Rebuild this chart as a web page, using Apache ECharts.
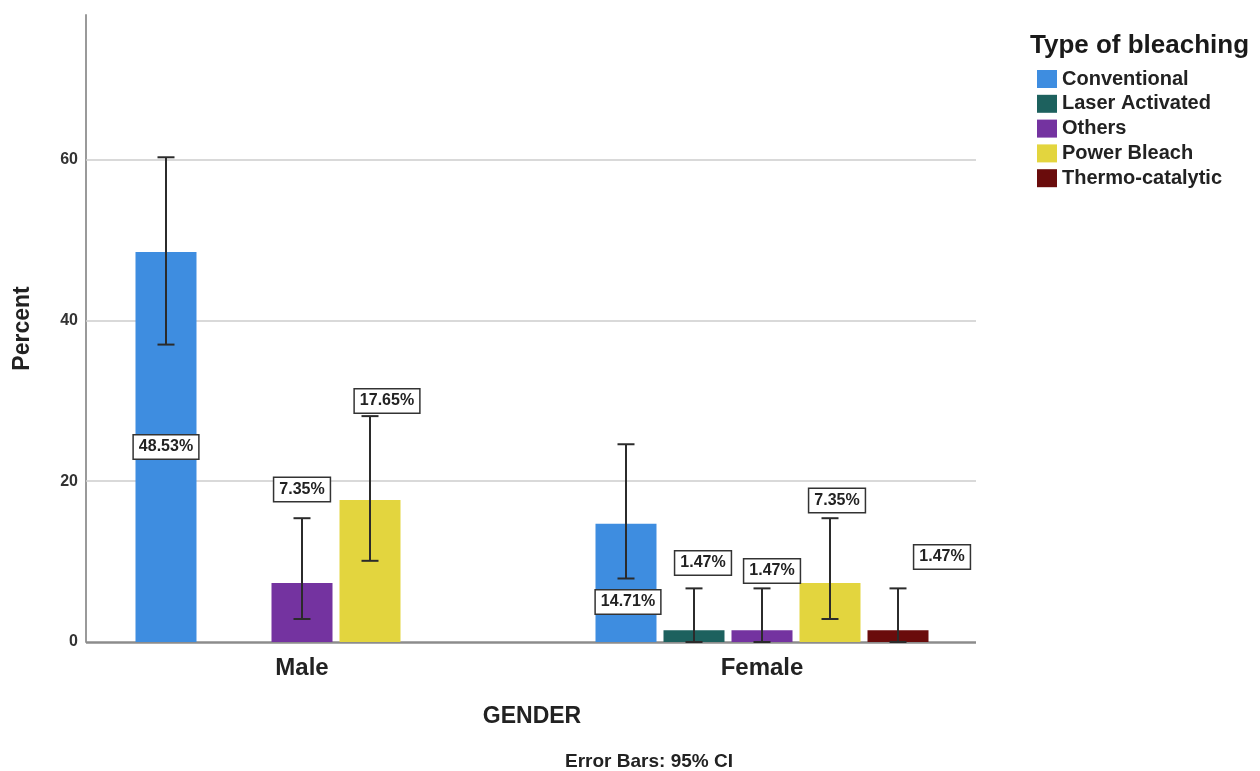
<!DOCTYPE html>
<html>
<head>
<meta charset="utf-8">
<script src="https://cdn.jsdelivr.net/npm/echarts@6/dist/echarts.min.js"></script>
<style>
  html, body { margin: 0; padding: 0; background: #fff; }
  #chart { width: 1260px; height: 771px; }
</style>
</head>
<body>
<div id="chart"></div>
<script>
// Gender groups on the x axis
const genders = ['Male', 'Female'];

// Bleaching types (legend order)
const bleachTypes = ['Conventional', 'Laser Activated', 'Others', 'Power Bleach', 'Thermo-catalytic'];

// Percent of cases per bleaching type, [Male, Female]
const conventional = [48.53, 14.71];
const laserActivated = [0, 1.47];
const others = [7.35, 1.47];
const powerBleach = [17.65, 7.35];
const thermoCatalytic = [0, 1.47];

// 95% confidence interval bounds, [Male, Female]
const conventionalCI = [[37.0, 60.3], [7.9, 24.6]];
const laserActivatedCI = [null, [0, 6.67]];
const othersCI = [[2.86, 15.4], [0, 6.67]];
const powerBleachCI = [[10.1, 28.1], [2.86, 15.4]];
const thermoCatalyticCI = [null, [0, 6.67]];

// Y axis gridline values
const yGridValues = [20, 40, 60];

const seriesValues = [conventional, laserActivated, others, powerBleach, thermoCatalytic];
const seriesCI = [conventionalCI, laserActivatedCI, othersCI, powerBleachCI, thermoCatalyticCI];
const colors = ['#3e8de0', '#1d615e', '#7433a0', '#e3d53e', '#6a0c0c'];

// Data label offsets from the bar centre (px), [type][gender]
const labelOffsets = [
  [[0, 0], [2, 19]],
  [[0, 0], [9, -73]],
  [[0, -123], [10, -65]],
  [[17, -170], [7, -112]],
  [[0, 0], [44, -79]]
];

const FONT = '"Liberation Sans", Arial, sans-serif';
const BAR_WIDTH = 61;
const BAR_STEP = 68;
const AXIS_X0 = 86, AXIS_X1 = 976;

const labelStyle = {
  show: true,
  position: 'inside',
  fontFamily: FONT,
  fontWeight: 'bold',
  fontSize: 16,
  color: '#222',
  backgroundColor: '#fff',
  borderColor: '#333',
  borderWidth: 1.5,
  padding: [4, 5, 3, 5],
  formatter: p => p.value.toFixed(2) + '%'
};

const barSeries = bleachTypes.map((name, k) => ({
  name,
  type: 'bar',
  barWidth: BAR_WIDTH,
  barGap: ((BAR_STEP - BAR_WIDTH) / BAR_WIDTH * 100).toFixed(2) + '%',
  itemStyle: { color: colors[k] },
  z: 2,
  label: labelStyle,
  data: seriesValues[k].map((v, g) => ({
    value: v,
    label: v > 0 ? { offset: labelOffsets[k][g] } : { show: false }
  }))
}));

// Horizontal reference lines (gridlines + baseline), drawn beneath the bars
const hLine = (v, color, width) => [
  { xAxis: genders[0], yAxis: v, x: AXIS_X0, lineStyle: { color, width, type: 'solid' } },
  { xAxis: genders[1], yAxis: v, x: AXIS_X1 }
];
barSeries[0].markLine = {
  silent: true,
  z: 1,
  symbol: ['none', 'none'],
  label: { show: false },
  emphasis: { disabled: true },
  data: yGridValues.map(v => hLine(v, '#cccccc', 1.5)).concat([hLine(0, '#8c8c8c', 2.5)])
};

// Error bar rows: [genderIndex, typeIndex, low, high]
const errorRows = [];
seriesCI.forEach((ci, k) => ci.forEach((r, g) => { if (r) errorRows.push([g, k, r[0], r[1]]); }));

const errorSeries = {
  type: 'custom',
  name: 'CI',
  z: 4,
  silent: true,
  encode: { x: 0, y: [2, 3] },
  data: errorRows,
  renderItem: (params, api) => {
    const cx = api.coord([api.value(0), 0])[0] + (api.value(1) - 2) * BAR_STEP;
    const yLo = api.coord([api.value(0), api.value(2)])[1];
    const yHi = api.coord([api.value(0), api.value(3)])[1];
    const cap = 8.5;
    const style = { stroke: '#2b2b2b', lineWidth: 2 };
    return {
      type: 'group',
      children: [
        { type: 'line', shape: { x1: cx, y1: yLo, x2: cx, y2: yHi }, style },
        { type: 'line', shape: { x1: cx - cap, y1: yHi, x2: cx + cap, y2: yHi }, style },
        { type: 'line', shape: { x1: cx - cap, y1: yLo, x2: cx + cap, y2: yLo }, style }
      ]
    };
  }
};

const chart = echarts.init(document.getElementById('chart'), null, { renderer: 'canvas' });
chart.setOption({
  animation: false,
  backgroundColor: '#fff',
  textStyle: { fontFamily: FONT },
  title: [
    {
      text: 'Type of bleaching',
      left: 1030, top: 33, padding: 0,
      textStyle: { fontFamily: FONT, fontWeight: 'bold', fontSize: 26, color: '#1a1a1a' }
    },
    {
      text: 'Error Bars: 95% CI',
      left: 649, top: 752, textAlign: 'center', padding: 0,
      textStyle: { fontFamily: FONT, fontWeight: 'bold', fontSize: 19, color: '#222' }
    }
  ],
  legend: {
    orient: 'vertical',
    left: 1037, top: 69, padding: 0,
    icon: 'rect',
    itemWidth: 20, itemHeight: 18, itemGap: 4.8,
    selectedMode: false,
    data: bleachTypes,
    textStyle: { fontFamily: FONT, fontWeight: 'bold', fontSize: 20, lineHeight: 20, color: '#222' }
  },
  grid: { left: 72, right: 268, top: 15, bottom: 129, containLabel: false },
  xAxis: {
    type: 'category',
    data: genders,
    axisLine: { show: false },
    axisTick: { show: false },
    axisLabel: { fontFamily: FONT, fontWeight: 'bold', fontSize: 24, color: '#222', margin: 14 },
    name: 'GENDER',
    nameLocation: 'middle',
    nameGap: 63,
    nameTextStyle: { fontFamily: FONT, fontWeight: 'bold', fontSize: 23, color: '#222' }
  },
  yAxis: {
    type: 'value',
    min: 0, max: 78, interval: 20,
    offset: -14,
    axisLine: { show: true, lineStyle: { color: '#9a9a9a', width: 2 } },
    axisTick: { show: false },
    splitLine: { show: false },
    axisLabel: {
      fontFamily: FONT, fontWeight: 'bold', fontSize: 16, color: '#333', margin: 8,
      showMaxLabel: false,
      formatter: v => (v % 20 === 0 ? String(v) : '')
    },
    name: 'Percent',
    nameLocation: 'middle',
    nameRotate: 90,
    nameGap: 52,
    nameTextStyle: { fontFamily: FONT, fontWeight: 'bold', fontSize: 23, color: '#222' }
  },
  series: barSeries.concat([errorSeries])
});
</script>
</body>
</html>
